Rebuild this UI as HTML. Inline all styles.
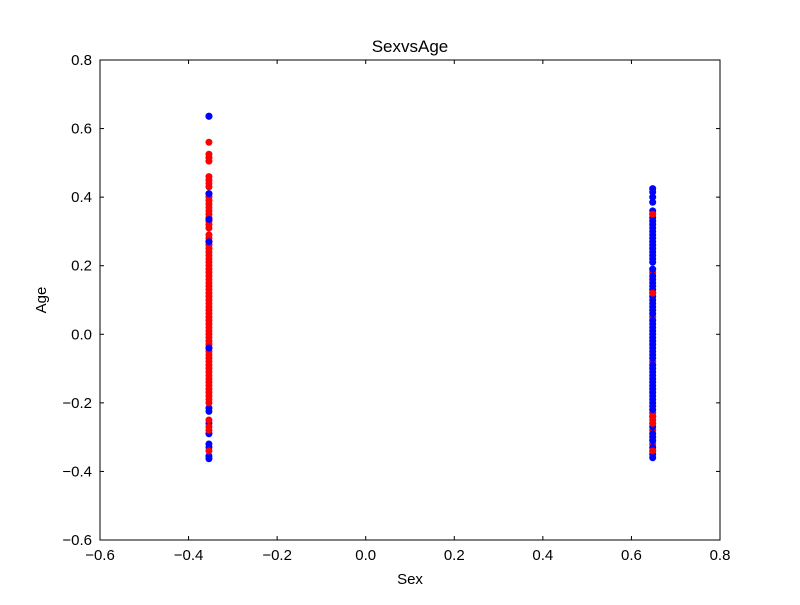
<!DOCTYPE html>
<html><head><meta charset="utf-8"><style>
body{margin:0;background:#fff;}
svg text{font-family:"Liberation Sans","DejaVu Sans",sans-serif;}
</style></head><body>
<svg id="chart" width="800" height="600" xmlns="http://www.w3.org/2000/svg">
<rect width="800" height="600" fill="#fff"/>
<g id="marks"></g>
<rect x="100" y="60" width="620" height="480" fill="none" stroke="#000" stroke-width="1"/>
<g id="axes"></g>
<text x="410" y="52" font-size="17" text-anchor="middle">SexvsAge</text>
<text x="410" y="584" font-size="15" text-anchor="middle">Sex</text>
<text x="46" y="300" font-size="15" text-anchor="middle" transform="rotate(-90 46 300)">Age</text>
</svg>
<script>
const xTicks=[-0.6,-0.4,-0.2,0.0,0.2,0.4,0.6,0.8];
const yTicks=[-0.6,-0.4,-0.2,0.0,0.2,0.4,0.6,0.8];
const xLeft=-0.354, xRight=0.648;
const leftRed=[0.56,0.525,0.515,0.505,0.46,0.45,0.44,0.43,0.40,0.39,0.38,0.37,0.36,0.35,0.34,0.33,0.32,0.31,0.29,0.28,0.27,0.26,0.25,0.24,0.23,0.22,0.21,0.20,0.19,0.18,0.17,0.16,0.15,0.14,0.13,0.12,0.11,0.10,0.09,0.08,0.07,0.06,0.05,0.04,0.03,0.02,0.01,0.0,-0.01,-0.02,-0.03,-0.05,-0.06,-0.07,-0.08,-0.09,-0.10,-0.11,-0.12,-0.13,-0.14,-0.15,-0.16,-0.17,-0.18,-0.19,-0.20,-0.25,-0.27,-0.28,-0.34];
const leftBlue=[0.636,0.41,0.335,0.27,-0.04,-0.215,-0.225,-0.26,-0.29,-0.32,-0.33,-0.355,-0.363];
const rightBlue=[0.425,0.415,0.40,0.385,0.36,0.34,0.33,0.32,0.31,0.30,0.29,0.28,0.27,0.26,0.25,0.24,0.23,0.22,0.21,0.19,0.17,0.16,0.15,0.14,0.13,0.11,0.10,0.09,0.08,0.07,0.06,0.04,0.03,0.02,0.01,0.0,-0.01,-0.02,-0.03,-0.04,-0.05,-0.06,-0.07,-0.09,-0.10,-0.11,-0.12,-0.13,-0.14,-0.15,-0.16,-0.17,-0.18,-0.19,-0.20,-0.21,-0.22,-0.27,-0.29,-0.30,-0.31,-0.33,-0.35,-0.36];
const rightRed=[0.35,0.18,0.12,0.05,-0.08,-0.23,-0.24,-0.25,-0.26,-0.28,-0.32,-0.34];
const X0=100,X1=720,Y0=540,Y1=60;
const xs=v=>X0+(v+0.6)/1.4*(X1-X0);
const ys=v=>Y0-(v+0.6)/1.4*(Y0-Y1);
const NS="http://www.w3.org/2000/svg";
const marks=document.getElementById('marks'), axes=document.getElementById('axes');
function dot(x,y,c,name){const e=document.createElementNS(NS,'circle');
e.setAttribute('cx',xs(x));e.setAttribute('cy',ys(y));e.setAttribute('r',3.5);e.setAttribute('fill',c);


marks.appendChild(e);}
leftBlue.forEach(v=>dot(xLeft,v,'#0000ff','point-blue'));
leftRed.forEach(v=>dot(xLeft,v,'#ff0000','point-red'));
leftBlue.slice(0,5).forEach(v=>dot(xLeft,v,'#0000ff','point-blue'));
rightRed.forEach(v=>dot(xRight,v,'#ff0000','point-red'));
rightBlue.forEach(v=>dot(xRight,v,'#0000ff','point-blue'));
[0.35,0.12,-0.24,-0.26,-0.34].forEach(v=>dot(xRight,v,'#ff0000','point-red'));
function line(x1,y1,x2,y2){const l=document.createElementNS(NS,'line');
l.setAttribute('x1',x1);l.setAttribute('y1',y1);l.setAttribute('x2',x2);l.setAttribute('y2',y2);l.setAttribute('stroke','#000');


axes.appendChild(l);}
function txt(x,y,s,a,name){const t=document.createElementNS(NS,'text');
t.setAttribute('x',x);t.setAttribute('y',y);t.setAttribute('font-size','15');t.setAttribute('text-anchor',a);t.textContent=s;


axes.appendChild(t);}
const fmt=v=>(v<0?'\u2212':'')+Math.abs(v).toFixed(1);
xTicks.forEach(v=>{const x=xs(v);line(x,Y0,x,Y0-4);line(x,Y1,x,Y1+4);txt(x,Y0+20,fmt(v),'middle','x-tick-label');});
yTicks.forEach(v=>{const y=ys(v);line(X0,y,X0+4,y);line(X1,y,X1-4,y);txt(X0-8,y+5,fmt(v),'end','y-tick-label');});
</script>
</body></html>
